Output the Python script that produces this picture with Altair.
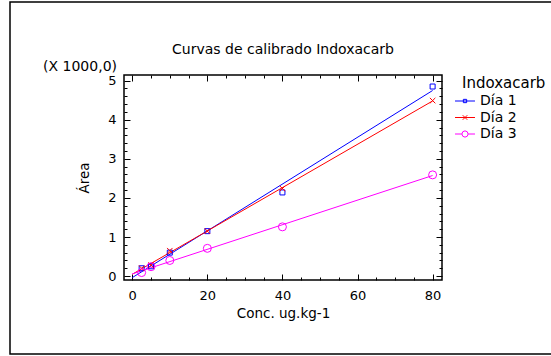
import altair as alt
import pandas as pd

# Calibration data: concentration (ug/kg) and measured peak area per day
conc = [2.5, 5, 10, 20, 40, 80]
dia_1 = [200, 250, 600, 1150, 2140, 4850]
dia_2 = [200, 280, 650, 1150, 2240, 4490]
dia_3 = [90, 240, 400, 710, 1260, 2590]
series = ["Día 1", "Día 2", "Día 3"]
colors = ["#0000ff", "#ff0000", "#ff00ff"]

x_labels = [0, 20, 40, 60, 80]
y_labels = [0, 1000, 2000, 3000, 4000, 5000]
x_ticks = list(range(0, 81, 5))
y_ticks = list(range(0, 5001, 200))
y_multiplier = "(X 1000,0)"

FONT = "DejaVu Sans"
W, H = 318, 205

df = pd.DataFrame({
    "conc": conc * 3,
    "area": dia_1 + dia_2 + dia_3,
    "serie": [s for s in series for _ in conc],
})

x_scale = alt.Scale(domain=[-2.2, 82.5], nice=False, zero=False)
y_scale = alt.Scale(domain=[-100, 5145], nice=False, zero=False)
color_scale = alt.Scale(domain=series, range=colors)

# Legend symbols: a short line with the series marker on it
legend_paths = [
    "M-1.33,0L1.33,0M-0.22,-0.22L0.22,-0.22L0.22,0.22L-0.22,0.22Z",
    "M-1.33,0L1.33,0M-0.3,-0.3L0.3,0.3M-0.3,0.3L0.3,-0.3",
    "M-1.33,0L-0.42,0M0.42,0L1.33,0M0.42,0L0.3,0.3L0,0.42L-0.3,0.3L-0.42,0L-0.3,-0.3L0,-0.42L0.3,-0.3Z",
]
marker_shapes = ["square", "M-1,-1L1,1M-1,1L1,-1", "circle"]
marker_sizes = [25, 30, 64]


def tick_axis(orient, offset, values, major):
    # Tick-only axis pushed onto the opposite edge so its ticks point inward
    return alt.Axis(
        orient=orient, offset=offset, values=values, labels=False, title=None,
        domain=False, grid=False, ticks=True, tickColor="black", tickWidth=1,
        tickSize={"condition": {"test": f"datum.value % {major} === 0", "value": 6}, "value": 3},
    )


x_label_axis = alt.Axis(
    orient="bottom", values=x_labels, ticks=False, domain=False, grid=False,
    labelFontSize=13, labelPadding=9, labelFlush=False, labelColor="black",
    title="Conc. ug.kg-1", titleFontSize=13.5, titleFontWeight="normal", titleColor="black",
    titleY=37, titleBaseline="alphabetic",
)
y_label_axis = alt.Axis(
    orient="left", values=y_labels, ticks=False, domain=False, grid=False,
    labelExpr="format(datum.value / 1000, 'd')",
    labelFontSize=13, labelPadding=8, labelColor="black",
    title="Área", titleFontSize=13.5, titleFontWeight="normal", titleColor="black",
    titleX=-36, titleY=H / 2, titleBaseline="alphabetic", titleAlign="center", titleAngle=-90,
)

legend = alt.Legend(
    title="Indoxacarb", orient="none", legendX=338, legendY=1,
    titleFontSize=15, titleFontWeight="normal", titleColor="black", titleFont=FONT,
    titlePadding=2,
    labelFontSize=14, labelColor="black", labelFont=FONT, labelOffset=7,
    symbolSize=225, symbolStrokeWidth=1, symbolOffset=-5, rowPadding=1.5,
)

base = alt.Chart(df)

# Outer frame of the figure
frame = alt.Chart(pd.DataFrame({"f": [0]})).mark_rect(
    fill="transparent", stroke="black", strokeWidth=1.5
).encode(x=alt.value(-114), x2=alt.value(460), y=alt.value(-73), y2=alt.value(279))

# Fitted calibration lines
lines = base.transform_regression(
    "conc", "area", groupby=["serie"], extent=[0, 80]
).mark_line(strokeWidth=1).encode(
    x=alt.X("conc:Q", scale=x_scale, axis=tick_axis("top", -H, x_ticks, 20)),
    y=alt.Y("area:Q", scale=y_scale, axis=tick_axis("right", -W, y_ticks, 1000)),
    stroke=alt.Stroke("serie:N", scale=color_scale, legend=legend),
)


# Measured points, one marker style per day
def points(i, axes):
    return base.transform_filter(alt.datum.serie == series[i]).mark_point(
        shape=marker_shapes[i], size=marker_sizes[i], filled=False,
        strokeWidth=1, opacity=1, color=colors[i],
    ).encode(
        x=alt.X("conc:Q", scale=x_scale, axis=x_label_axis if axes else None),
        y=alt.Y("area:Q", scale=y_scale, axis=y_label_axis if axes else None),
    )


pts1, pts2, pts3 = points(0, True), points(1, False), points(2, False)

# Legend carrier (no rows drawn) that also holds the inward ticks of the top and right edges
key = base.transform_filter("false").mark_point(filled=False, opacity=1).encode(
    x=alt.X("conc:Q", scale=x_scale, axis=tick_axis("bottom", -H, x_ticks, 20)),
    y=alt.Y("area:Q", scale=y_scale, axis=tick_axis("left", -W, y_ticks, 1000)),
    color=alt.Color("serie:N", scale=color_scale, legend=legend),
    shape=alt.Shape("serie:N", scale=alt.Scale(domain=series, range=legend_paths), legend=legend),
)

multiplier = alt.Chart(pd.DataFrame({"t": [y_multiplier]})).mark_text(
    align="right", baseline="alphabetic", fontSize=14, font=FONT, color="black"
).encode(text="t:N", x=alt.value(-7), y=alt.value(-4))

chart = alt.layer(frame, lines, pts1, pts2, pts3, key, multiplier).resolve_axis(
    x="independent", y="independent"
).properties(
    width=W, height=H,
    autosize=alt.AutoSizeParams(type="none"),
    padding={"left": 124, "top": 75, "right": 109, "bottom": 76},
    title=alt.Title(
        "Curvas de calibrado Indoxacarb", fontSize=14, fontWeight="normal", font=FONT,
        color="black", anchor="middle", offset=0, dy=66.75, baseline="alphabetic", frame="group",
    ),
    background="white",
).configure(font=FONT).configure_view(stroke="black", strokeWidth=1.5)

chart.save("out.html", embed_options={"renderer": "svg", "actions": False})
